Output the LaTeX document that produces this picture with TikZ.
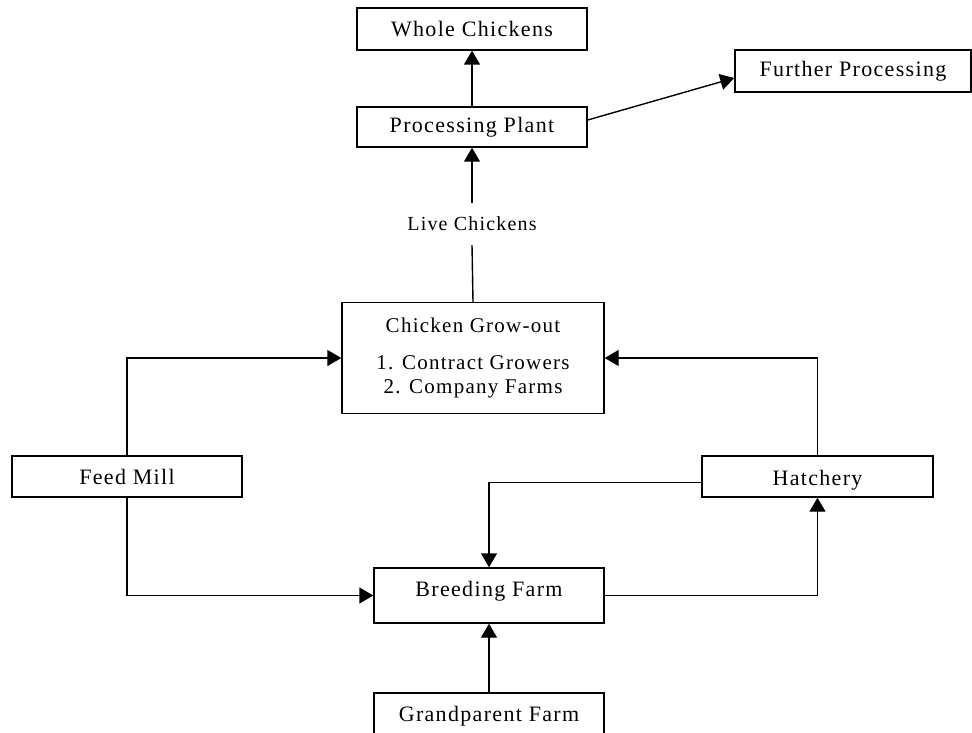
\documentclass[tikz,border=0pt]{standalone}
\usepackage{fontspec}
\setmainfont{Liberation Serif}[LetterSpace=6]
\usetikzlibrary{arrows.meta}
\begin{document}
\begin{tikzpicture}[x=1pt,y=-1pt,
  every node/.style={font=\fontsize{22}{24}\selectfont},
  box/.style={draw,line width=1.4pt,rectangle,inner sep=0pt,align=center},
  link/.style={line width=1.4pt},
  flow/.style={link,-{Triangle[length=14pt,width=16pt]}}]
\useasboundingbox (0,0) rectangle (972,733);
\clip (0,0) rectangle (972,733);

% boxes
\node[box,minimum width=230,minimum height=42] (whole) at (472,29) {Whole Chickens};
\node[box,minimum width=230,minimum height=40] (proc) at (472,127) {Processing Plant};
\node[box,minimum width=236,minimum height=42] (further) at (853,71) {Further Processing};
\node[box,minimum width=262,minimum height=111,font=\fontsize{21}{24}\selectfont] (grow) at (473,358)
  {Chicken Grow-out\\[13pt]1. Contract Growers\\2. Company Farms};
\node[box,minimum width=230,minimum height=41] (feed) at (127,476.5) {Feed Mill};
\node[box,minimum width=231,minimum height=41,text height=22pt] (hatch) at (817.5,476.5) {Hatchery};
\node[box,minimum width=230,minimum height=55,text depth=14pt] (breed) at (489,595.5) {Breeding Farm};
\node[box,minimum width=230,minimum height=54,text depth=13pt] (grand) at (489,720) {Grandparent Farm};

% label on the grow-out link
\node[minimum height=42,inner sep=0pt,font=\fontsize{20}{24}\selectfont] (live) at (472,224) {Live Chickens};

% connectors
\draw[flow] (proc.north) -- (whole.south);
\draw[flow] ([yshift=7pt]proc.east) -- ([yshift=-7pt]further.west);
\draw[link] (grow.north) -- (live.south);
\draw[flow] (live.north) -- (proc.south);
\draw[flow] (feed.north) |- (grow.west);
\draw[flow] (feed.south) |- (breed.west);
\draw[flow] (hatch.north) |- (grow.east);
\draw[flow] ([yshift=-6pt]hatch.west) -| (breed.north);
\draw[flow] (breed.east) -| (hatch.south);
\draw[flow] (grand.north) -- (breed.south);
\end{tikzpicture}
\end{document}
